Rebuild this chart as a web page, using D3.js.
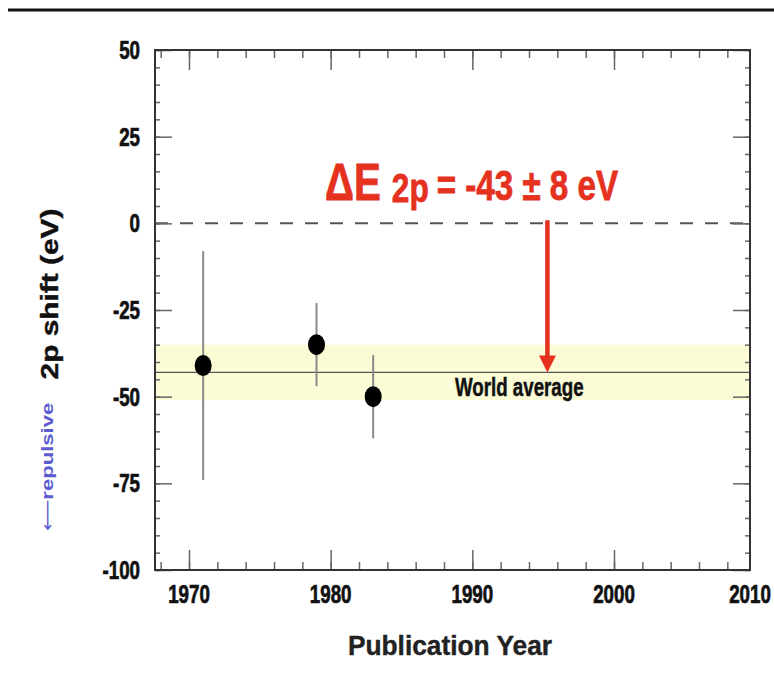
<!DOCTYPE html>
<html>
<head>
<meta charset="utf-8">
<script src="https://cdn.jsdelivr.net/npm/d3@7"></script>
<style>
  html, body { margin: 0; padding: 0; background: #fff; }
  svg { display: block; }
  text { font-family: "Liberation Sans", Arial, Helvetica, sans-serif; font-weight: bold; }
</style>
</head>
<body>
<script>
// Measurements of the 2p level shift, by year of publication
const years = [1971, 1979, 1983];
const shifts = [-41, -35, -50];
const errors = [33, 12, 12];

// World average of the shift and its uncertainty
const worldAvg = -43;
const worldErr = 8;
const arrowYear = 1995.3;

// Axis ticks
const yTicks = [50, 25, 0, -25, -50, -75, -100];
const yMinor = d3.range(-100, 51, 5);
const xTicks = [1970, 1980, 1990, 2000, 2010];
const xMinor = d3.range(1968, 2010, 2);

const W = 774, H = 674;
const plotL = 155, plotR = 750, plotT = 50, plotB = 570;

const svg = d3.select("body").append("svg").attr("width", W).attr("height", H);

const x = d3.scaleLinear().domain([1967.6, 2009.6]).range([plotL, plotR]);
const y = d3.scaleLinear().domain([-100, 50]).range([plotB, plotT]);

// rule across the top of the page
svg.append("line").attr("x1", 8).attr("x2", W).attr("y1", 10).attr("y2", 10)
  .attr("stroke", "#111").attr("stroke-width", 3);

// world-average band and line
svg.append("rect")
  .attr("x", plotL).attr("width", plotR - plotL)
  .attr("y", y(worldAvg + worldErr)).attr("height", y(worldAvg - worldErr) - y(worldAvg + worldErr))
  .attr("fill", "#fbfbd5");
svg.append("line").attr("x1", plotL).attr("x2", plotR)
  .attr("y1", y(worldAvg)).attr("y2", y(worldAvg))
  .attr("stroke", "#555").attr("stroke-width", 1.2);

// zero line
svg.append("line").attr("x1", plotL).attr("x2", plotR)
  .attr("y1", y(0)).attr("y2", y(0))
  .attr("stroke", "#555").attr("stroke-width", 2).attr("stroke-dasharray", "13,12");

// inward tick marks on all four sides
function tickAxis(axis, tx, ty, values, size) {
  const g = svg.append("g").attr("transform", `translate(${tx},${ty})`)
    .call(axis.tickValues(values).tickSize(size).tickFormat(""));
  g.select(".domain").remove();
  g.selectAll(".tick line").attr("stroke", "#666").attr("stroke-width", 1.5);
}
tickAxis(d3.axisRight(y), plotL, 0, yMinor, 5);
tickAxis(d3.axisRight(y), plotL, 0, yTicks, 17);
tickAxis(d3.axisLeft(y), plotR, 0, yMinor, 5);
tickAxis(d3.axisLeft(y), plotR, 0, yTicks, 17);
tickAxis(d3.axisTop(x), 0, plotB, xMinor, 8);
tickAxis(d3.axisTop(x), 0, plotB, xTicks.filter(d => x(d) < plotR), 20);
tickAxis(d3.axisBottom(x), 0, plotT, xMinor, 8);
tickAxis(d3.axisBottom(x), 0, plotT, xTicks.filter(d => x(d) < plotR), 20);

// frame
svg.append("rect").attr("x", plotL).attr("y", plotT)
  .attr("width", plotR - plotL).attr("height", plotB - plotT)
  .attr("fill", "none").attr("stroke", "#333").attr("stroke-width", 2);

// tick labels (narrow heavy face)
const sx = 0.75;
svg.append("g").selectAll("text").data(yTicks).join("text")
  .attr("transform", d => `translate(${plotL - 15},${y(d) + 9}) scale(${sx},1)`)
  .attr("text-anchor", "end").attr("font-size", 25).attr("fill", "#111")
  .attr("stroke", "#111").attr("stroke-width", 0.7)
  .text(d => d);
svg.append("g").selectAll("text").data(xTicks).join("text")
  .attr("transform", d => `translate(${Math.min(x(d), plotR)},${603}) scale(${sx},1)`)
  .attr("text-anchor", "middle").attr("font-size", 25).attr("fill", "#111")
  .attr("stroke", "#111").attr("stroke-width", 0.7)
  .text(d => d);

// axis titles
svg.append("text")
  .attr("transform", `translate(450,655) scale(0.94,1)`)
  .attr("text-anchor", "middle").attr("font-size", 28).attr("fill", "#222")
  .attr("stroke", "#222").attr("stroke-width", 0.4)
  .text("Publication Year");
svg.append("text")
  .attr("transform", `translate(58,294) rotate(-90) scale(1.3,1)`)
  .attr("text-anchor", "middle").attr("font-size", 23).attr("fill", "#111")
  .attr("stroke", "#111").attr("stroke-width", 0.4)
  .text("2p shift (eV)");
const rep = svg.append("text")
  .attr("transform", `translate(53,467) rotate(-90) scale(1.3,1)`)
  .attr("text-anchor", "middle").attr("font-size", 17).attr("fill", "#5c5cd0");
rep.append("tspan").attr("font-family", "DejaVu Sans").attr("font-weight", "normal").text("\u27F5");
rep.append("tspan").text("repulsive");

// error bars and points
const pts = years.map((yr, i) => ({ yr, v: shifts[i], e: errors[i] }));
svg.append("g").selectAll("line").data(pts).join("line")
  .attr("x1", d => x(d.yr)).attr("x2", d => x(d.yr))
  .attr("y1", d => y(d.v + d.e)).attr("y2", d => y(d.v - d.e))
  .attr("stroke", "#8a8a8a").attr("stroke-width", 2);
svg.append("g").selectAll("ellipse").data(pts).join("ellipse")
  .attr("cx", d => x(d.yr)).attr("cy", d => y(d.v))
  .attr("rx", 8.5).attr("ry", 10.5).attr("fill", "#000");

// world-average label
svg.append("text")
  .attr("transform", `translate(455,396) scale(0.72,1)`)
  .attr("font-size", 26).attr("fill", "#111")
  .attr("stroke", "#111").attr("stroke-width", 0.5)
  .text("World average");

// red arrow from zero down to the world average
const red = "#e5321f";
const ax = x(arrowYear);
svg.append("line").attr("x1", ax).attr("x2", ax)
  .attr("y1", y(0) - 3).attr("y2", y(worldAvg) - 14)
  .attr("stroke", red).attr("stroke-width", 4.5);
svg.append("path")
  .attr("d", `M${ax - 8.5},${y(worldAvg) - 17} L${ax + 8.5},${y(worldAvg) - 17} L${ax},${y(worldAvg)} Z`)
  .attr("fill", red);

// value of the world average
const lbl = svg.append("text")
  .attr("transform", `translate(325,200) scale(0.79,1)`)
  .attr("fill", red).attr("stroke", red).attr("stroke-width", 0.8);
lbl.append("tspan").attr("font-size", 51).text("\u0394E");
lbl.append("tspan").attr("font-size", 40).attr("dx", 14).attr("dy", 2).text("2p");
lbl.append("tspan").attr("font-size", 42).attr("dx", 10).attr("dy", -2).text(`= ${worldAvg} \u00b1 ${worldErr} eV`);
</script>
</body>
</html>
